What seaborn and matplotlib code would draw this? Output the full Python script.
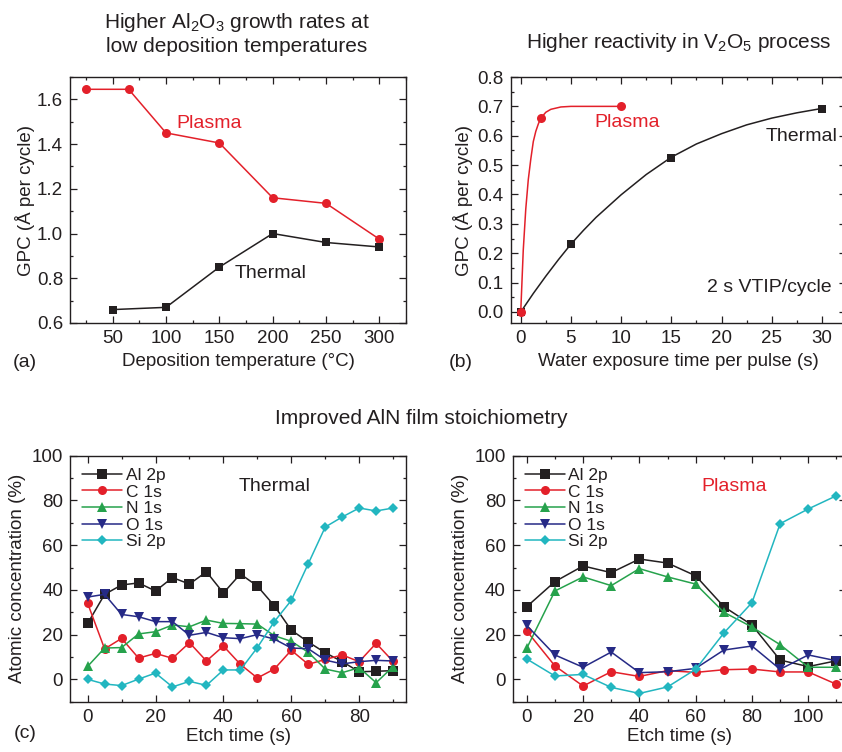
import numpy as np
import matplotlib
matplotlib.use("Agg")
import matplotlib.pyplot as plt
from matplotlib.ticker import MultipleLocator
import seaborn as sns

# ---- (a) Al2O3 GPC vs deposition temperature
temp_plasma = [25, 65, 100, 150, 200, 250, 300]
gpc_plasma = [1.645, 1.645, 1.45, 1.405, 1.16, 1.135, 0.975]
temp_thermal = [50, 100, 150, 200, 250, 300]
gpc_thermal = [0.66, 0.67, 0.85, 1.0, 0.96, 0.94]

# ---- (b) V2O5 GPC vs water exposure time
t_plasma = [0, 2, 10]
v_plasma = [0.0, 0.66, 0.70]
t_thermal = [0, 5, 15, 30]
v_thermal = [0.0, 0.23, 0.525, 0.69]
# fitted curves as drawn in the figure
fit_t_plasma = [0, 0.25, 0.5, 0.75, 1.0, 1.25, 1.5, 1.75, 2.0, 2.5, 3.0, 4.0, 5.0, 7.0, 10.0]
fit_v_plasma = [0, 0.21, 0.35, 0.45, 0.52, 0.58, 0.615, 0.64, 0.66, 0.68, 0.69, 0.698, 0.70, 0.70, 0.70]
fit_t_thermal = [0, 1.25, 2.5, 3.75, 5, 6.25, 7.5, 10, 12.5, 15, 17.5, 20, 22.5, 25, 27.5, 30]
fit_v_thermal = [0, 0.063, 0.122, 0.178, 0.231, 0.278, 0.322, 0.399, 0.468, 0.527, 0.572, 0.607, 0.637, 0.66, 0.678, 0.693]

# ---- (c) XPS depth profiles
etch_thermal = list(range(0, 95, 5))
al_thermal = [25, 38, 42.2, 43.1, 39.5, 45.5, 42.6, 48.1, 38.6, 47.1, 41.7, 32.9, 22, 16.7, 11.9, 7.9, 3.4, 3.6, 3.9]
c_thermal = [34, 13.6, 18.3, 9.5, 11.6, 9.4, 16.4, 8.2, 14.9, 6.7, 0.6, 4.6, 13, 6.7, 8.9, 10.9, 7.9, 16.1, 8]
n_thermal = [5.8, 14, 14.2, 20.3, 21.3, 24.3, 23.5, 26.5, 25, 24.9, 24.7, 19.5, 17, 12.1, 4.6, 3, 5.2, -1.5, 5.7]
o_thermal = [36.8, 38, 29, 28, 25.8, 25.8, 19.7, 21, 18.6, 18.2, 20, 18, 14, 13.7, 8.6, 6.9, 7.9, 8.5, 8.2]
si_thermal = [0, -2.1, -2.8, 0.1, 2.8, -3.4, -0.9, -2.7, 4.2, 4.2, 14.2, 25.8, 35.3, 51.7, 68.1, 72.6, 76.6, 75.3, 76.6]

etch_plasma = list(range(0, 120, 10))
al_plasma = [32.5, 43.7, 50.7, 47.7, 53.8, 52, 46.3, 32.5, 24.3, 8.6, 5.7, 8.3]
c_plasma = [21.6, 6, -3, 3.4, 1.3, 3.9, 3.1, 4.3, 4.6, 3.3, 3.3, -2.2]
n_plasma = [13.9, 39.5, 45.8, 41.9, 49.5, 45.8, 42.6, 30, 23.4, 15.5, 5.4, 5.4]
o_plasma = [24.1, 10.9, 5.4, 12.2, 3, 3.4, 4.9, 13.1, 14.9, 4.5, 10.9, 8.3]
si_plasma = [9.1, 1.5, 2.2, -3.6, -6.3, -3.4, 4.5, 20.7, 34.3, 69.6, 76.2, 82.1]

elements = ['Al 2p', 'C 1s', 'N 1s', 'O 1s', 'Si 2p']
el_colors = ['#231f20', '#e3202a', '#26a24c', '#262a86', '#22b6c0']
el_markers = ['s', 'o', '^', 'v', 'D']

RED = '#e3202a'
BLACK = '#231f20'

sns.set_style("ticks")
plt.rcParams['font.family'] = ['Liberation Sans', 'DejaVu Sans']
plt.rcParams['mathtext.fontset'] = 'custom'
plt.rcParams['mathtext.rm'] = 'Liberation Sans'
plt.rcParams['text.color'] = '#231f20'
plt.rcParams['axes.labelcolor'] = '#231f20'
plt.rcParams['xtick.color'] = '#231f20'
plt.rcParams['ytick.color'] = '#231f20'
plt.rcParams['axes.edgecolor'] = '#231f20'

W, H = 842, 752
fig = plt.figure(figsize=(W / 100, H / 100), dpi=100)


def box(l, t, r, b):
    return [l / W, 1 - b / H, (r - l) / W, (b - t) / H]


def style_ax(ax):
    ax.tick_params(which='both', direction='in', top=True, right=True,
                   labelsize=13.5, width=0.9, pad=5)
    ax.tick_params(which='major', length=5)
    ax.tick_params(which='minor', length=2.5)
    for s in ax.spines.values():
        s.set_linewidth(1.0)
    ax.grid(False)


axa = fig.add_axes(box(70, 77, 406, 323))
axb = fig.add_axes(box(510.7, 77, 846, 323))
axc1 = fig.add_axes(box(70, 455.7, 406, 701.7))
axc2 = fig.add_axes(box(512.7, 455.7, 846, 701.7))

# ---- panel (a)
sns.lineplot(x=temp_plasma, y=gpc_plasma, ax=axa, color=RED, marker='o',
             markersize=6.5, markeredgewidth=0, linewidth=1.1)
sns.lineplot(x=temp_thermal, y=gpc_thermal, ax=axa, color=BLACK, marker='s',
             markersize=6, markeredgewidth=0, linewidth=1.1)
axa.set_xlim(10, 325)
axa.set_ylim(0.6, 1.7)
axa.xaxis.set_major_locator(MultipleLocator(50))
axa.xaxis.set_minor_locator(MultipleLocator(25))
axa.yaxis.set_major_locator(MultipleLocator(0.2))
axa.yaxis.set_minor_locator(MultipleLocator(0.1))
axa.yaxis.set_major_formatter(matplotlib.ticker.FormatStrFormatter('%.1f'))
axa.set_xlabel('Deposition temperature (°C)', fontsize=13.5, labelpad=4)
axa.set_ylabel('GPC (Å per cycle)', fontsize=13.5, labelpad=1)
axa.text(140, 1.49, 'Plasma', color=RED, fontsize=14, ha='center', va='center')
axa.text(198, 0.822, 'Thermal', color=BLACK, fontsize=14, ha='center', va='center')
style_ax(axa)

# ---- panel (b)
sns.lineplot(x=fit_t_plasma, y=fit_v_plasma, ax=axb, color=RED, linewidth=1.1)
sns.lineplot(x=fit_t_thermal, y=fit_v_thermal, ax=axb, color=BLACK, linewidth=1.1)
sns.lineplot(x=t_thermal, y=v_thermal, ax=axb, color=BLACK, marker='s',
             markersize=6, markeredgewidth=0, linestyle='none')
sns.lineplot(x=t_plasma, y=v_plasma, ax=axb, color=RED, marker='o',
             markersize=6.5, markeredgewidth=0, linestyle='none')
axb.set_xlim(-1, 32.4)
axb.set_ylim(-0.0375, 0.8)
axb.xaxis.set_major_locator(MultipleLocator(5))
axb.xaxis.set_minor_locator(MultipleLocator(2.5))
axb.yaxis.set_major_locator(MultipleLocator(0.1))
axb.yaxis.set_minor_locator(MultipleLocator(0.05))
axb.yaxis.set_major_formatter(matplotlib.ticker.FormatStrFormatter('%.1f'))
axb.set_xlabel('Water exposure time per pulse (s)', fontsize=13.5, labelpad=4)
axb.set_ylabel('GPC (Å per cycle)', fontsize=13.5, labelpad=3)
axb.text(10.6, 0.645, 'Plasma', color=RED, fontsize=14, ha='center', va='center')
axb.text(28.0, 0.597, 'Thermal', color=BLACK, fontsize=14, ha='center', va='center')
axb.text(24.8, 0.083, '2 s VTIP/cycle', color=BLACK, fontsize=14, ha='center', va='center')
style_ax(axb)

# ---- panel (c)
for ax, x, series, label, lcolor, lx in [
        (axc1, etch_thermal, [al_thermal, c_thermal, n_thermal, o_thermal, si_thermal], 'Thermal', BLACK, 55.2),
        (axc2, etch_plasma, [al_plasma, c_plasma, n_plasma, o_plasma, si_plasma], 'Plasma', RED, 73.5)]:
    for name, ys, col, mk in zip(elements, series, el_colors, el_markers):
        sns.lineplot(x=x, y=ys, ax=ax, color=col, marker=mk, label=name,
                     markersize=6.5 if mk != 'D' else 5.5, markeredgewidth=0, linewidth=1.1)
    ax.set_ylim(-10, 100)
    ax.xaxis.set_major_locator(MultipleLocator(20))
    ax.xaxis.set_minor_locator(MultipleLocator(10))
    ax.yaxis.set_major_locator(MultipleLocator(20))
    ax.yaxis.set_minor_locator(MultipleLocator(10))
    ax.set_xlabel('Etch time (s)', fontsize=13.5, labelpad=2)
    ax.set_ylabel('Atomic concentration (%)', fontsize=13.5, labelpad=4)
    ax.text(lx, 86.4, label, color=lcolor, fontsize=14, ha='center', va='center')
    ax.legend(loc='upper left', frameon=False, fontsize=12.5, labelspacing=0.08,
              handlelength=2.3, handletextpad=0.2, borderaxespad=0.3)
    style_ax(ax)
axc1.set_xlim(-5.2, 93.8)
axc2.set_xlim(-5, 113.4)

# ---- titles and panel labels
fig.text(237 / W, 1 - 22 / H, 'Higher Al$_{\\mathregular{2}}$O$_{\\mathregular{3}}$ growth rates at',
         ha='center', va='center', fontsize=15)
fig.text(237 / W, 1 - 47 / H, 'low deposition temperatures', ha='center', va='center', fontsize=15)
fig.text(679 / W, 1 - 42 / H, 'Higher reactivity in V$_{\\mathregular{2}}$O$_{\\mathregular{5}}$ process',
         ha='center', va='center', fontsize=15)
fig.text(421 / W, 1 - 419 / H, 'Improved AlN film stoichiometry', ha='center', va='center', fontsize=15)
fig.text(25 / W, 1 - 362 / H, '(a)', ha='center', va='center', fontsize=14)
fig.text(461 / W, 1 - 362 / H, '(b)', ha='center', va='center', fontsize=14)
fig.text(25 / W, 1 - 733 / H, '(c)', ha='center', va='center', fontsize=14)

plt.savefig('out.png', dpi=100)
